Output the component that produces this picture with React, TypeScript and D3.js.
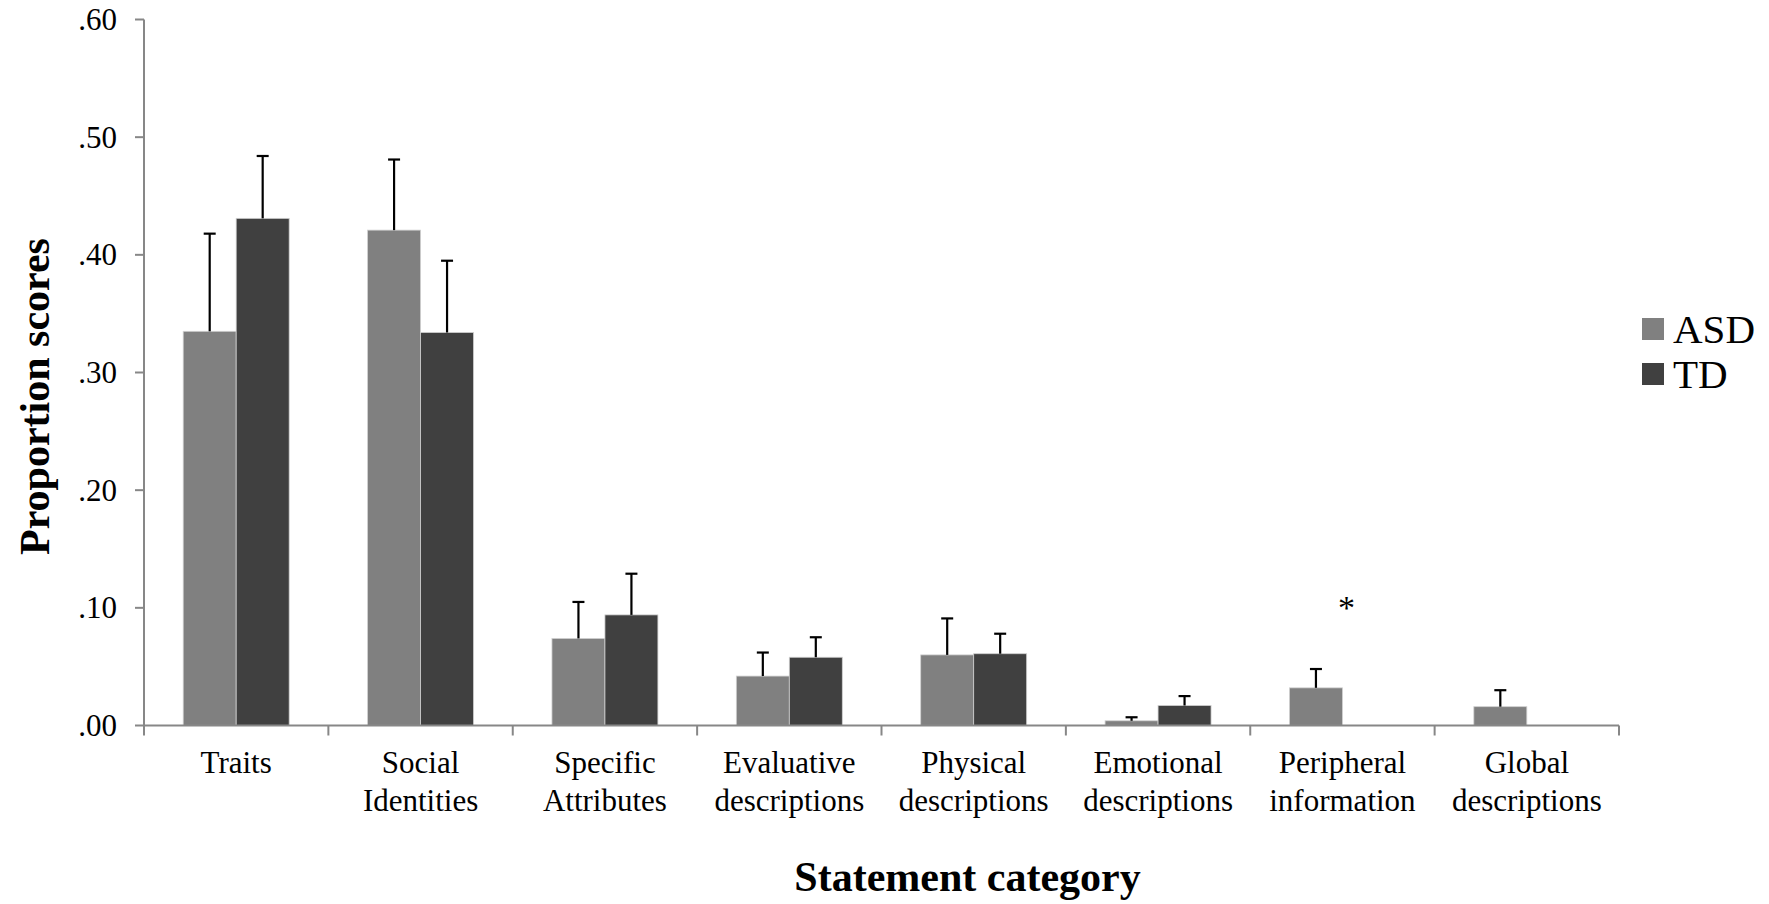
import React from "react";
import * as d3 from "d3";

const categories = [
  "Traits",
  "Social\nIdentities",
  "Specific\nAttributes",
  "Evaluative\ndescriptions",
  "Physical\ndescriptions",
  "Emotional\ndescriptions",
  "Peripheral\ninformation",
  "Global\ndescriptions",
];
const seriesNames = ["ASD", "TD"];
const asdValues = [0.335, 0.421, 0.074, 0.042, 0.060, 0.004, 0.032, 0.016];
const asdErrors = [0.083, 0.060, 0.031, 0.020, 0.031, 0.003, 0.016, 0.014];
const tdValues = [0.431, 0.334, 0.094, 0.058, 0.061, 0.017, 0.0, 0.0];
const tdErrors = [0.053, 0.061, 0.035, 0.017, 0.017, 0.008, 0.0, 0.0];
const yTicks = [0, 0.1, 0.2, 0.3, 0.4, 0.5, 0.6];
const significant = ["Peripheral\ninformation"];

const W = 1769;
const H = 904;
const colors = ["#808080", "#404040"];
const FONT = "'Liberation Serif', 'Times New Roman', serif";

export default function App() {
  const x = d3.scaleBand<string>().domain(categories).range([144, 1619]).paddingInner(0).paddingOuter(0);
  const xSub = d3.scaleBand<string>().domain(seriesNames).range([0, x.bandwidth()]).paddingInner(0).paddingOuter(0.74);
  const y = d3.scaleLinear().domain([0, 0.6]).range([725.5, 19.5]);
  const fmt = (v: number) => d3.format(".2f")(v).replace(/^0/, "");
  const series = [
    { name: "ASD", values: asdValues, errors: asdErrors },
    { name: "TD", values: tdValues, errors: tdErrors },
  ];
  const axisColor = "#878787";
  const capW = 12;

  return (
    <svg width={W} height={H} style={{ position: "absolute", left: 0, top: 0, display: "block", background: "#fff" }} fontFamily={FONT}>
      {/* bars */}
      {series.map((s, si) =>
        categories.map((c, i) => {
          const x0 = (x(c) ?? 0) + (xSub(s.name) ?? 0);
          const v = s.values[i];
          return (
            <rect
              key={s.name + c}
              x={x0}
              y={y(v)}
              width={xSub.bandwidth()}
              height={Math.max(0, y(0) - y(v))}
              fill={colors[si]}
              stroke="#d0d0d0"
              strokeWidth={0.8}
            />
          );
        })
      )}
      {/* error bars */}
      {series.map((s) =>
        categories.map((c, i) => {
          if (s.errors[i] <= 0) return null;
          const cx = (x(c) ?? 0) + (xSub(s.name) ?? 0) + xSub.bandwidth() / 2;
          const top = y(s.values[i] + s.errors[i]);
          return (
            <g key={"e" + s.name + c} stroke="#000" strokeWidth={2.2}>
              <line x1={cx} x2={cx} y1={y(s.values[i])} y2={top} />
              <line x1={cx - capW / 2} x2={cx + capW / 2} y1={top} y2={top} />
            </g>
          );
        })
      )}
      {/* y axis */}
      <line x1={144} x2={144} y1={y(0.6)} y2={y(0)} stroke={axisColor} strokeWidth={2} />
      {yTicks.map((t) => (
        <g key={t}>
          <line x1={135} x2={144} y1={y(t)} y2={y(t)} stroke={axisColor} strokeWidth={2} />
          <text x={117} y={y(t)} dy="0.34em" textAnchor="end" fontSize={31} fill="#000">
            {fmt(t)}
          </text>
        </g>
      ))}
      {/* x axis */}
      <line x1={144} x2={1619} y1={y(0)} y2={y(0)} stroke={axisColor} strokeWidth={2} />
      {[...categories.map((c) => x(c) ?? 0), 1619].map((p, i) => (
        <line key={i} x1={p} x2={p} y1={y(0)} y2={y(0) + 10} stroke={axisColor} strokeWidth={2} />
      ))}
      {categories.map((c) => {
        const cx = (x(c) ?? 0) + x.bandwidth() / 2;
        return (
          <text key={c} x={cx} textAnchor="middle" fontSize={31} fill="#000">
            {c.split("\n").map((ln, k) => (
              <tspan key={k} x={cx} y={773 + k * 38}>
                {ln}
              </tspan>
            ))}
          </text>
        );
      })}
      {significant.map((c) => (
        <text key={"sig" + c} x={(x(c) ?? 0) + x.bandwidth() / 2 + 4} y={619} textAnchor="middle" fontSize={34} fill="#000">
          *
        </text>
      ))}
      {/* axis titles */}
      <text x={967.5} y={891} textAnchor="middle" fontSize={42} fontWeight="bold" fill="#000">
        Statement category
      </text>
      <text transform={`translate(49,${(y(0) + y(0.6)) / 2 + 24}) rotate(-90)`} textAnchor="middle" fontSize={42} fontWeight="bold" fill="#000">
        Proportion scores
      </text>
      {/* legend */}
      {seriesNames.map((n, i) => (
        <g key={n} transform={`translate(1642,${318 + i * 45})`}>
          <rect x={0} y={0} width={22} height={22} fill={colors[i]} />
          <text x={31} y={24.5} fontSize={41} fill="#000">
            {n}
          </text>
        </g>
      ))}
    </svg>
  );
}
